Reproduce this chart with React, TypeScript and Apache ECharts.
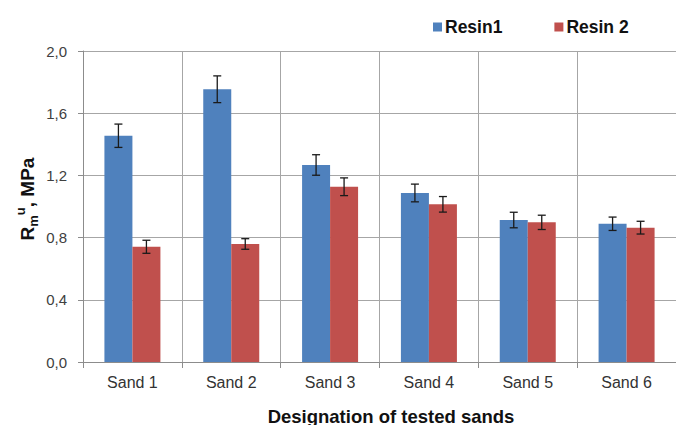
import React, { useEffect, useRef } from "react";
import * as echarts from "echarts";

const categories = ["Sand 1", "Sand 2", "Sand 3", "Sand 4", "Sand 5", "Sand 6"];
const resin1 = [1.455, 1.754, 1.267, 1.087, 0.913, 0.889];
const resin1Err = [0.075, 0.086, 0.066, 0.057, 0.05, 0.043];
const resin2 = [0.741, 0.759, 1.127, 1.014, 0.898, 0.864];
const resin2Err = [0.042, 0.034, 0.057, 0.05, 0.046, 0.041];
const seriesNames = ["Resin1", "Resin 2"];
const yTicks = { min: 0, max: 2, interval: 0.4 };

const BLUE = "#4F81BD";
const RED = "#C0504D";
const BAR_W = 28;
const FONT = "Liberation Sans, Arial, sans-serif";

function errData(vals: number[], errs: number[]) {
  return vals.map((v, i) => [i, v - errs[i], v + errs[i]]);
}

function makeErrRenderer(offset: number) {
  return (params: any, api: any) => {
    const idx = api.value(0);
    const lo = api.coord([idx, api.value(1)]);
    const hi = api.coord([idx, api.value(2)]);
    const x = lo[0] + offset;
    const cap = 4;
    const style = { stroke: "#1a1a1a", lineWidth: 1.3 };
    return {
      type: "group",
      children: [
        { type: "line", shape: { x1: x, y1: hi[1], x2: x, y2: lo[1] }, style },
        { type: "line", shape: { x1: x - cap, y1: hi[1], x2: x + cap, y2: hi[1] }, style },
        { type: "line", shape: { x1: x - cap, y1: lo[1], x2: x + cap, y2: lo[1] }, style },
      ],
    };
  };
}

export default function App() {
  const ref = useRef<HTMLDivElement>(null);
  useEffect(() => {
    if (!ref.current) return;
    const chart = echarts.init(ref.current, null, { renderer: "svg" });
    chart.setOption({
      animation: false,
      backgroundColor: "#ffffff",
      textStyle: { fontFamily: FONT },
      legend: {
        data: seriesNames,
        top: 13,
        left: 428,
        itemWidth: 9,
        itemHeight: 9,
        itemGap: 52,
        icon: "rect",
        textStyle: { fontSize: 17.5, fontWeight: "bold", color: "#111", padding: [0, 0, 0, -2] },
      },
      grid: { left: 83, right: -2, top: 51, bottom: 63, containLabel: false },
      xAxis: {
        type: "category",
        data: categories,
        boundaryGap: true,
        axisLine: { show: true, lineStyle: { color: "#8c8c8c", width: 1 } },
        axisTick: { show: true, interval: 0, length: 6, lineStyle: { color: "#8c8c8c" } },
        splitLine: { show: true, interval: 0, lineStyle: { color: "#a6a6a6", width: 1 } },
        axisLabel: { fontSize: 16, color: "#333", margin: 12, interval: 0 },
      },
      yAxis: {
        type: "value",
        min: yTicks.min,
        max: yTicks.max,
        interval: yTicks.interval,
        axisLine: { show: true, lineStyle: { color: "#8c8c8c", width: 1 } },
        axisTick: { show: true, length: 5, lineStyle: { color: "#8c8c8c" } },
        splitLine: { show: true, lineStyle: { color: "#a6a6a6", width: 1 } },
        axisLabel: {
          fontSize: 15,
          color: "#404040",
          margin: 16,
          formatter: (v: number) => v.toFixed(1).replace(".", ","),
        },
      },
      graphic: [
        {
          type: "text",
          x: 27,
          y: 199,
          rotation: Math.PI / 2,
          style: {
            text: "{r|R}{m|m}{u|u}{r|, MPa}",
            align: "center",
            verticalAlign: "middle",
            rich: {
              r: { fontSize: 19, fontWeight: "bold", fill: "#111", lineHeight: 26, verticalAlign: "middle", fontFamily: FONT },
              m: { fontSize: 13, fontWeight: "bold", fill: "#111", lineHeight: 26, verticalAlign: "bottom", fontFamily: FONT },
              u: { fontSize: 13, fontWeight: "bold", fill: "#111", lineHeight: 26, verticalAlign: "top", fontFamily: FONT },
            },
          },
        },
        {
          type: "text",
          x: 391,
          y: 416,
          style: {
            text: "Designation of tested sands",
            align: "center",
            verticalAlign: "middle",
            fontSize: 18.5,
            fontWeight: "bold",
            fill: "#111",
            fontFamily: FONT,
          },
        },
      ],
      series: [
        {
          name: seriesNames[0],
          type: "bar",
          data: resin1,
          barWidth: BAR_W,
          barGap: "0%",
          itemStyle: { color: BLUE },
        },
        {
          name: seriesNames[1],
          type: "bar",
          data: resin2,
          barWidth: BAR_W,
          barGap: "0%",
          itemStyle: { color: RED },
        },
        {
          type: "custom",
          data: errData(resin1, resin1Err),
          renderItem: makeErrRenderer(-BAR_W / 2),
          encode: { x: 0, y: [1, 2] },
          z: 10,
          silent: true,
        },
        {
          type: "custom",
          data: errData(resin2, resin2Err),
          renderItem: makeErrRenderer(BAR_W / 2),
          encode: { x: 0, y: [1, 2] },
          z: 10,
          silent: true,
        },
      ],
    });
    return () => chart.dispose();
  }, []);
  return (
    <div
      ref={ref}
      style={{ position: "fixed", left: 0, top: 0, width: 676, height: 425, background: "#fff" }}
    />
  );
}
